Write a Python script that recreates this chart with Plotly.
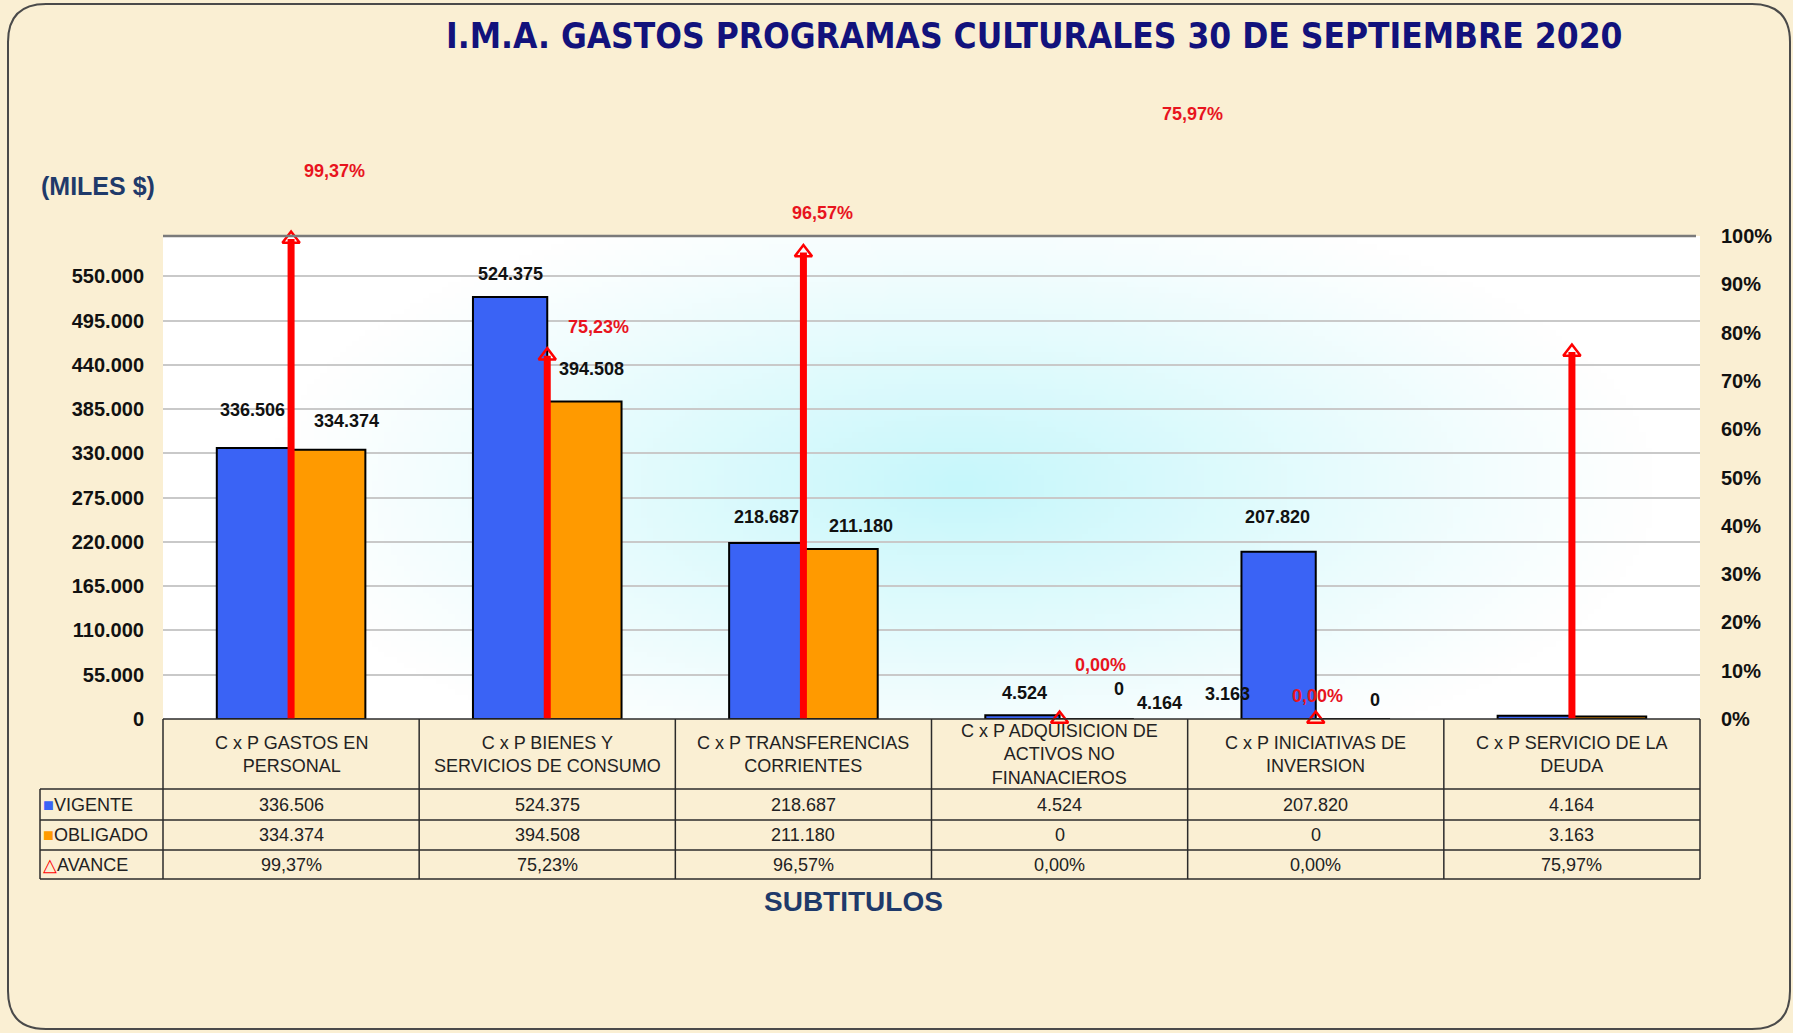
import base64
import struct
import zlib

import numpy as np
import plotly.graph_objects as go

# datos (miles $)
CATEGORIAS = [
    "C x P GASTOS EN<br>PERSONAL",
    "C x P BIENES Y<br>SERVICIOS DE CONSUMO",
    "C x P TRANSFERENCIAS<br>CORRIENTES",
    "C x P ADQUISICION DE<br>ACTIVOS NO<br>FINANACIEROS",
    "C x P INICIATIVAS DE<br>INVERSION",
    "C x P SERVICIO DE LA<br>DEUDA",
]
VIGENTE = [336506, 524375, 218687, 4524, 207820, 4164]
OBLIGADO = [334374, 394508, 211180, 0, 0, 3163]
AVANCE = [0.9937, 0.7523, 0.9657, 0.0, 0.0, 0.7597]
Y_TICKS = list(range(0, 550001, 55000))

TITULO = "I.M.A. GASTOS PROGRAMAS CULTURALES 30 DE SEPTIEMBRE 2020"

AZUL = "#3A63F5"
NARANJA = "#FF9A00"
ROJO = "#FF0000"
NAVY_T = "#12127C"
NAVY = "#1F3A6A"
PAPEL = "#FAEFD3"
FONT = "Liberation Sans, Arial, sans-serif"
NARROW = "DejaVu Sans Condensed, Liberation Sans Narrow, Arial, sans-serif"

W_FIG, H_FIG = 1793, 1033
L, R, T, B = 163, 1700, 236, 719  # plot area in pixels
PW, PH = R - L, B - T


def px(x):
    return (x - L) / PW


def py(y):
    return (B - y) / PH


def fmt_miles(v):
    return f"{v:,}".replace(",", ".")


def fmt_pct(p):
    return f"{p * 100:.2f}".replace(".", ",") + "%"


def gradient_png(w=240, h=90):
    """White plot area with a soft cyan glow in the middle."""
    xs, ys = np.meshgrid(np.linspace(0, 1, w), np.linspace(0, 1, h))
    d = np.sqrt(((xs - 0.52) / 0.45) ** 2 + ((ys - 0.52) / 0.62) ** 2)
    t = np.clip(1 - d, 0, 1) ** 1.1
    white = np.array([255, 255, 255], dtype=float)
    cyan = np.array([198, 247, 251], dtype=float)
    img = (white * (1 - t[..., None]) + cyan * t[..., None]).astype(np.uint8)
    raw = b"".join(b"\x00" + img[j].tobytes() for j in range(h))

    def chunk(tag, data):
        return (struct.pack(">I", len(data)) + tag + data
                + struct.pack(">I", zlib.crc32(tag + data) & 0xffffffff))

    png = (b"\x89PNG\r\n\x1a\n"
           + chunk(b"IHDR", struct.pack(">IIBBBBB", w, h, 8, 2, 0, 0, 0))
           + chunk(b"IDAT", zlib.compress(raw, 9))
           + chunk(b"IEND", b""))
    return "data:image/png;base64," + base64.b64encode(png).decode()


def paper_text(x, y, text, font, xanchor="center", **kw):
    return dict(x=px(x), y=py(y), xref="paper", yref="paper", text=text,
                showarrow=False, xanchor=xanchor, yanchor="middle", font=font, **kw)


fig = go.Figure()
fig.add_trace(go.Bar(
    x=CATEGORIAS, y=VIGENTE, name="VIGENTE",
    marker=dict(color=AZUL, line=dict(color="#000000", width=2)),
))
fig.add_trace(go.Bar(
    x=CATEGORIAS, y=OBLIGADO, name="OBLIGADO",
    marker=dict(color=NARANJA, line=dict(color="#000000", width=2)),
))
fig.add_trace(go.Scatter(
    x=CATEGORIAS, y=AVANCE, name="AVANCE", yaxis="y2", mode="markers",
    marker=dict(symbol="triangle-up-open", size=15, color=ROJO,
                line=dict(color=ROJO, width=2.5)),
    error_y=dict(type="data", symmetric=False, array=[0] * len(AVANCE),
                 arrayminus=AVANCE, thickness=7, width=0, color=ROJO),
    cliponaxis=False,
))

# label offsets (px) relative to category centre / bar top, as Excel left them
SHIFT_VIG = [(-39, 38), (-37, 23), (-37, 26), (-35, 22), (-38, 35), (-412, 13)]
SHIFT_OBL = [(55, 29), (44, 32), (58, 23), (59, 30), (59, 19), (-344, 22)]
SHIFT_AV = [(43, 68), (51, 29), (19, 40), (41, 54), (2, 23), (-379, 238)]

ann = []
for i, cat in enumerate(CATEGORIAS):
    for val, (dx, dy) in ((VIGENTE[i], SHIFT_VIG[i]), (OBLIGADO[i], SHIFT_OBL[i])):
        ann.append(dict(x=cat, y=val, xref="x", yref="y", text=fmt_miles(val),
                        showarrow=False, xshift=dx, yshift=dy,
                        xanchor="center", yanchor="middle",
                        font=dict(family=FONT, size=18, color="#111111", weight="bold")))
    dx, dy = SHIFT_AV[i]
    ann.append(dict(x=cat, y=AVANCE[i], xref="x", yref="y2", text=fmt_pct(AVANCE[i]),
                    showarrow=False, xshift=dx, yshift=dy,
                    xanchor="center", yanchor="middle",
                    font=dict(family=FONT, size=18, color="#E8141E", weight="bold")))

# data table under the plot
cell_w = PW / len(CATEGORIAS)
row_y = [719, 789, 820, 850, 879]
rows = [
    ("<span style='color:%s'>■</span>VIGENTE" % AZUL, [fmt_miles(v) for v in VIGENTE]),
    ("<span style='color:%s'>■</span>OBLIGADO" % NARANJA, [fmt_miles(v) for v in OBLIGADO]),
    ("<span style='color:%s'>△</span>AVANCE" % ROJO, [fmt_pct(p) for p in AVANCE]),
]
tfont = dict(family=FONT, size=18, color="#222222")
for i, cat in enumerate(CATEGORIAS):
    cx = L + cell_w * (i + 0.5)
    ann.append(paper_text(cx, (row_y[0] + row_y[1]) / 2, cat, tfont, align="center"))
    for r, (_, vals) in enumerate(rows):
        ann.append(paper_text(cx, (row_y[r + 1] + row_y[r + 2]) / 2, vals[i], tfont))
for r, (lab, _) in enumerate(rows):
    ann.append(paper_text(41, (row_y[r + 1] + row_y[r + 2]) / 2, lab, tfont, xanchor="left"))

line = dict(color="#2B2B2B", width=1.5)
shapes = []
for i in range(len(CATEGORIAS) + 1):
    x = px(L + cell_w * i)
    shapes.append(dict(type="line", xref="paper", yref="paper", x0=x, x1=x,
                       y0=py(row_y[0]), y1=py(row_y[-1]), line=line))
shapes.append(dict(type="line", xref="paper", yref="paper", x0=px(40), x1=px(40),
                   y0=py(row_y[1]), y1=py(row_y[-1]), line=line))
shapes.append(dict(type="line", xref="paper", yref="paper", x0=0, x1=1,
                   y0=py(row_y[0]), y1=py(row_y[0]), line=line))
for yy in row_y[1:]:
    shapes.append(dict(type="line", xref="paper", yref="paper", x0=px(40), x1=1,
                       y0=py(yy), y1=py(yy), line=line))
# plot area top edge
shapes.append(dict(type="line", xref="paper", yref="paper", x0=0, x1=px(1696),
                   y0=1, y1=1, line=dict(color="#7A7A7A", width=2.5)))

# rounded frame of the whole chart
x0, x1, y0, y1, rad = 8, 1790, 4, 1029, 38
path = (f"M {px(x0 + rad)},{py(y0)} L {px(x1 - rad)},{py(y0)} "
        f"Q {px(x1)},{py(y0)} {px(x1)},{py(y0 + rad)} L {px(x1)},{py(y1 - rad)} "
        f"Q {px(x1)},{py(y1)} {px(x1 - rad)},{py(y1)} L {px(x0 + rad)},{py(y1)} "
        f"Q {px(x0)},{py(y1)} {px(x0)},{py(y1 - rad)} L {px(x0)},{py(y0 + rad)} "
        f"Q {px(x0)},{py(y0)} {px(x0 + rad)},{py(y0)} Z")
shapes.append(dict(type="path", xref="paper", yref="paper", path=path,
                   line=dict(color="#4A4A4A", width=2)))

ann.append(paper_text(1034, 36, TITULO,
                      dict(family=NARROW, size=35, color=NAVY_T, weight="bold")))
ann.append(paper_text(98, 186, "(MILES $)",
                      dict(family=FONT, size=25, color=NAVY, weight="bold")))
ann.append(paper_text(853, 901, "SUBTITULOS",
                      dict(family=FONT, size=28, color=NAVY, weight="bold")))

fig.update_layout(
    width=W_FIG, height=H_FIG, autosize=False,
    margin=dict(l=L, r=W_FIG - R, t=T, b=H_FIG - B, pad=0),
    paper_bgcolor=PAPEL, plot_bgcolor="rgba(0,0,0,0)",
    separators=",.",
    barmode="group", bargap=0.42, bargroupgap=0,
    showlegend=False,
    annotations=ann, shapes=shapes,
    images=[dict(source=gradient_png(), xref="paper", yref="paper", x=0, y=1,
                 sizex=1, sizey=1, sizing="stretch", layer="below")],
    xaxis=dict(showticklabels=False, showgrid=False, zeroline=False, showline=False,
               range=[-0.5, len(CATEGORIAS) - 0.5]),
    yaxis=dict(range=[0, 600000], tickvals=Y_TICKS, tickformat=",d",
               showgrid=True, gridcolor="#C9C9C9", gridwidth=1.5, zeroline=False,
               showline=False, ticklabelstandoff=18,
               tickfont=dict(family=FONT, size=20, color="#111111", weight="bold")),
    yaxis2=dict(range=[0, 1], dtick=0.1, tickformat=".0%", overlaying="y", side="right",
                showgrid=False, zeroline=False, showline=False, ticklabelstandoff=20,
                tickfont=dict(family=FONT, size=20, color="#111111", weight="bold")),
)

# drop the default page margin so the figure sits at the window's top-left corner
fig.write_html("out.html", config={"displayModeBar": False},
               post_script="document.body.style.margin='0';")
